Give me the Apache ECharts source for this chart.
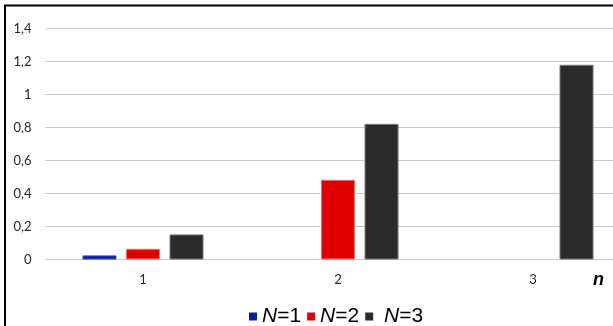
<!DOCTYPE html>
<html><head><meta charset="utf-8">
<script src="https://cdn.jsdelivr.net/npm/echarts@6/dist/echarts.min.js"></script>
<style>html,body{margin:0;padding:0;background:#fff;overflow:hidden;width:613px;height:326px;}#c{width:640px;height:326px;}</style>
</head><body><div id="c"></div>
<script>
const categories = ['1', '2', '3'];
const seriesNames = ['N=1', 'N=2', 'N=3'];
const valuesN1 = [0.025, null, null];
const valuesN2 = [0.065, 0.483, null];
const valuesN3 = [0.152, 0.822, 1.18];
const yTicks = [0, 0.2, 0.4, 0.6, 0.8, 1, 1.2, 1.4];
const colors = ['#0a1ca6', '#e00000', '#2b2b2b'];
const borders = ['#3346c0', '#f07070', '#777777'];

const chart = echarts.init(document.getElementById('c'), null, {renderer: 'canvas'});
const data = [valuesN1, valuesN2, valuesN3];
const legendFmt = {'N=1': '{i|N}{r|=1}', 'N=2': '{i|N}{r|=2}', 'N=3': ' {i|N}{r|=3}'};
chart.setOption({
  animation: false,
  backgroundColor: '#fff',
  grid: {left: 45.5, top: 28.5, width: 585, height: 231, containLabel: false},
  xAxis: {
    type: 'category', data: categories,
    axisLine: {show: true, lineStyle: {color: '#c8c8c8', width: 1}},
    axisTick: {show: false},
    axisLabel: {margin: 14, fontFamily: 'Lato', fontSize: 13, color: '#262626'}
  },
  yAxis: {
    type: 'value', min: yTicks[0], max: yTicks[yTicks.length - 1], interval: 0.2,
    axisLine: {show: false}, axisTick: {show: false},
    splitLine: {lineStyle: {color: '#c8c8c8', width: 1}},
    axisLabel: {margin: 14, fontFamily: 'Lato', fontSize: 13, color: '#262626',
      formatter: v => String(Math.round(v * 10) / 10).replace('.', ',')}
  },
  legend: {
    top: 301, left: 244, icon: 'rect', itemWidth: 8, itemHeight: 8, itemGap: 6,
    itemStyle: {borderWidth: 0},
    data: seriesNames,
    formatter: n => legendFmt[n],
    textStyle: {fontFamily: 'Liberation Sans', fontSize: 21, color: '#000',
      rich: {i: {fontStyle: 'italic', fontFamily: 'Liberation Sans', fontSize: 21, color: '#000'},
             r: {fontFamily: 'Liberation Sans', fontSize: 21, color: '#000'}}}
  },
  graphic: [
    {type: 'polyline', shape: {points: [[5, 330], [5, 5.5], [640, 5.5]]}, style: {stroke: '#000', lineWidth: 2, fill: null}},
    {type: 'text', left: 593, top: 271, style: {text: 'n', font: 'italic bold 18px "Liberation Sans"', fill: '#000'}}
  ],
  series: seriesNames.map((name, i) => ({
    name, type: 'bar', data: data[i], barWidth: 34, barGap: '28%',
    itemStyle: {color: colors[i], borderColor: borders[i], borderWidth: 1}
  }))
});
</script></body></html>
